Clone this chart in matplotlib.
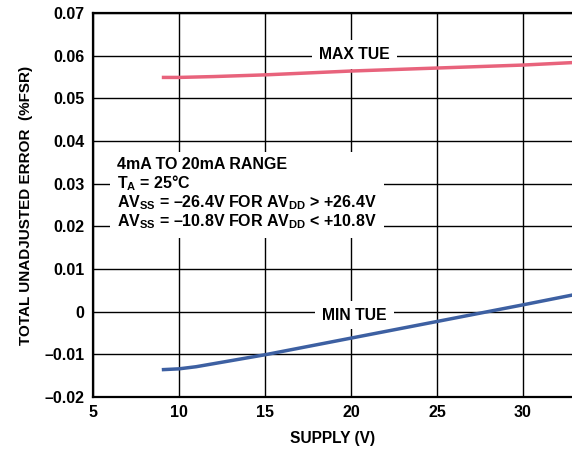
import matplotlib
matplotlib.use("Agg")
import matplotlib.pyplot as plt

# -------- DATA --------
supply_v = [9, 10, 11, 12, 15, 20, 25, 30, 33]
max_tue = [0.0549, 0.0549, 0.0550, 0.0551, 0.0555, 0.0564, 0.0571, 0.0578, 0.0584]
min_tue = [-0.0136, -0.0134, -0.0129, -0.0122, -0.0101, -0.0062, -0.0023, 0.0016, 0.0040]

x_ticks = [5, 10, 15, 20, 25, 30]
y_ticks = [-0.02, -0.01, 0, 0.01, 0.02, 0.03, 0.04, 0.05, 0.06, 0.07]
y_tick_labels = ["–0.02", "–0.01", "0", "0.01", "0.02", "0.03", "0.04", "0.05", "0.06", "0.07"]

note_lines = [
    "4mA TO 20mA RANGE",
    "T$_\\mathregular{A}$ = 25°C",
    "AV$_\\mathregular{SS}$ = –26.4V FOR AV$_\\mathregular{DD}$ > +26.4V",
    "AV$_\\mathregular{SS}$ = –10.8V FOR AV$_\\mathregular{DD}$ < +10.8V",
]

# -------- STYLE --------
plt.rcParams["font.family"] = ["Liberation Sans", "DejaVu Sans"]
plt.rcParams["font.weight"] = "bold"
plt.rcParams["mathtext.fontset"] = "custom"
plt.rcParams["mathtext.rm"] = "Liberation Sans:bold"
plt.rcParams["mathtext.bf"] = "Liberation Sans:bold"

fig = plt.figure(figsize=(5.72, 4.5), dpi=100)
ax = fig.add_axes([93 / 572, 53 / 450, 1 - 93 / 572, 384 / 450])

ax.plot(supply_v, max_tue, color="#e8637c", lw=2.5, solid_capstyle="butt", zorder=5)
ax.plot(supply_v, min_tue, color="#3d60a2", lw=2.5, solid_capstyle="butt", zorder=5)

ax.set_xlim(5, 32.85)
ax.set_ylim(-0.02, 0.07)
ax.set_xticks(x_ticks)
ax.set_yticks(y_ticks)
ax.set_yticklabels(y_tick_labels)
ax.tick_params(length=0, labelsize=11.5, pad=6)
for lbl in ax.get_xticklabels() + ax.get_yticklabels():
    lbl.set_fontweight("bold")

ax.grid(True, color="black", lw=1.0, zorder=1)
ax.spines["right"].set_visible(False)
for s in ["left", "bottom", "top"]:
    ax.spines[s].set_linewidth(1.6)

ax.set_xlabel("SUPPLY (V)", fontsize=11.2, fontweight="bold", labelpad=8)
ax.set_ylabel("TOTAL UNADJUSTED ERROR  (%FSR)", fontsize=11, fontweight="bold", labelpad=8)

white = dict(facecolor="white", edgecolor="none", pad=5)
ax.text(20.2, 0.0603, "MAX TUE", ha="center", va="center", fontsize=11.3,
        fontweight="bold", bbox=white, zorder=4)
ax.text(20.2, -0.0008, "MIN TUE", ha="center", va="center", fontsize=11.3,
        fontweight="bold", bbox=white, zorder=4)

ax.text(6.4, 0.0362, "\n".join(note_lines), ha="left", va="top", fontsize=11.5,
        fontweight="bold", linespacing=1.05, bbox=white, zorder=4)

fig.savefig("out.png", dpi=100)
